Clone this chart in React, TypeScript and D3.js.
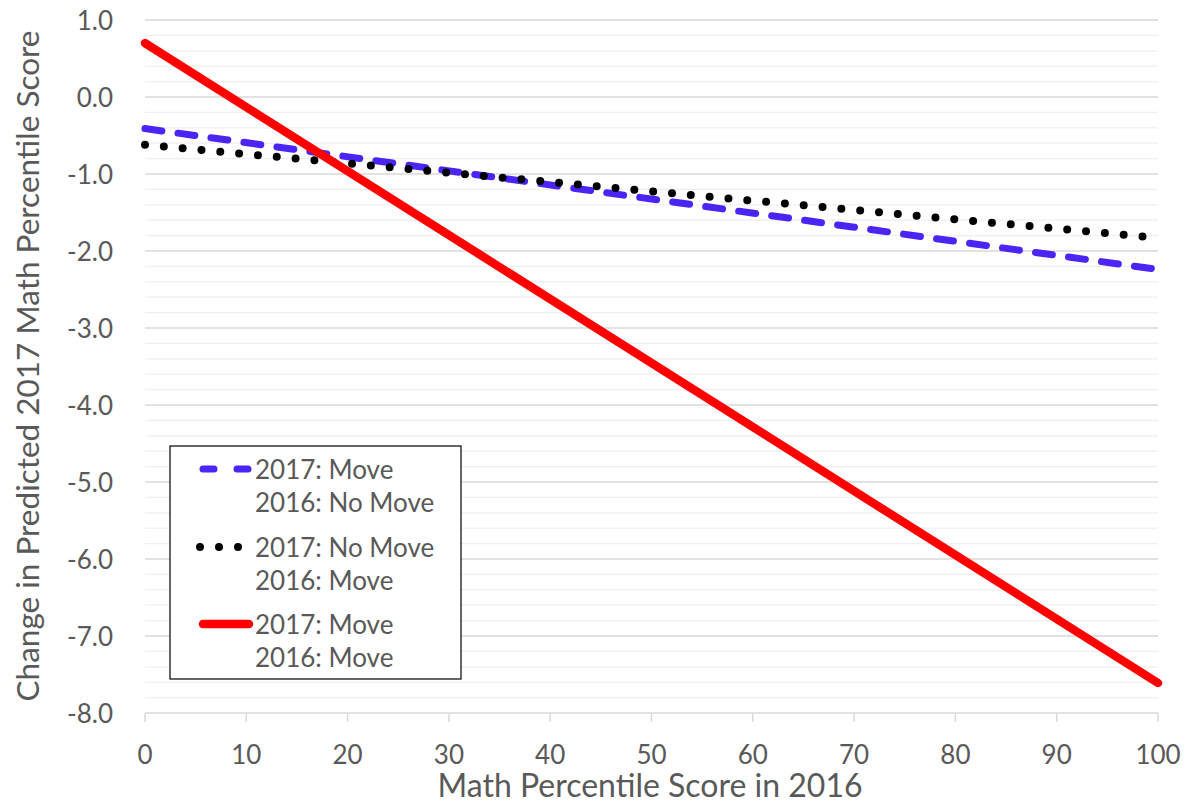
import React from "react";
import * as d3 from "d3";

const percentile = [0, 100];
const moveNoMove = [-0.41, -2.24];
const noMoveMove = [-0.62, -1.83];
const moveMove = [0.7, -7.61];
const xTicks = [0, 10, 20, 30, 40, 50, 60, 70, 80, 90, 100];
const yTicks = [1, 0, -1, -2, -3, -4, -5, -6, -7, -8];
const legendLabels = [
  ["2017: Move", "2016: No Move"],
  ["2017: No Move", "2016: Move"],
  ["2017: Move", "2016: Move"],
];

const W = 1188;
const H = 803;
const FONT = "Lato, 'Open Sans', sans-serif";
const TXT = "#595959";

const fmt = (v: number) => d3.format(".1f")(v).replace("\u2212", "-");

export default function App() {
  const x = d3.scaleLinear().domain([0, 100]).range([145, 1158]);
  const y = d3.scaleLinear().domain([-8, 1]).range([713, 20]);
  const minor = d3.range(-8, 1.0001, 0.2).map((v) => Math.round(v * 10) / 10);

  const line = d3
    .line<number>()
    .x((_, i) => x(percentile[i]))
    .y((d) => y(d));

  const series = [
    { data: moveNoMove, color: "#4a25f5", width: 7, dash: "17 16.3" },
    { data: noMoveMove, color: "#000000", width: 8, dash: "0 18.9" },
    { data: moveMove, color: "#ff0000", width: 8.5, dash: null },
  ];

  const lg = { x: 170, y: 446, w: 291, h: 233 };
  const rowY = [469, 547, 624];

  return (
    <svg
      width={W}
      height={H}
      style={{ position: "absolute", left: 0, top: 0, background: "#fff" }}
      fontFamily={FONT}
    >
      <rect width={W} height={H} fill="#fff" />
      {minor.map((v) => {
        const major = Math.abs(v - Math.round(v)) < 1e-6;
        if (v === -8) return null;
        return (
          <line
            key={"g" + v}
            x1={x(0)}
            x2={x(100)}
            y1={y(v)}
            y2={y(v)}
            stroke={major ? "#d9d9d9" : "#efefef"}
            strokeWidth={1.3}
          />
        );
      })}
      {/* x axis */}
      <line x1={x(0)} x2={x(100)} y1={y(-8)} y2={y(-8)} stroke="#d9d9d9" strokeWidth={1.5} />
      {xTicks.map((t) => (
        <g key={"xt" + t}>
          <line x1={x(t)} x2={x(t)} y1={y(-8)} y2={y(-8) + 9} stroke="#d9d9d9" strokeWidth={1.5} />
          <text x={x(t)} y={754} textAnchor="middle" dominantBaseline="central" fontSize={26} fill={TXT}>
            {t}
          </text>
        </g>
      ))}
      {yTicks.map((t) => (
        <text
          key={"yt" + t}
          x={113}
          y={y(t)}
          textAnchor="end"
          dominantBaseline="central"
          fontSize={26}
          fill={TXT}
        >
          {fmt(t)}
        </text>
      ))}
      <text x={650} y={797} textAnchor="middle" fontSize={32} fill={TXT}>
        Math Percentile Score in 2016
      </text>
      <text
        transform={`translate(27,366) rotate(-90)`}
        textAnchor="middle"
        dominantBaseline="central"
        fontSize={31.5}
        fill={TXT}
      >
        Change in Predicted 2017 Math Percentile Score
      </text>

      {series.map((s, i) => (
        <path
          key={"s" + i}
          d={line(s.data) || ""}
          fill="none"
          stroke={s.color}
          strokeWidth={s.width}
          strokeLinecap="round"
          strokeDasharray={s.dash || undefined}
        />
      ))}

      {/* legend */}
      <rect x={lg.x} y={lg.y} width={lg.w} height={lg.h} fill="#fff" stroke="#000" strokeWidth={1.2} />
      {series.map((s, i) => (
        <g key={"lg" + i}>
          <line
            x1={i === 1 ? 200 : 203}
            x2={i === 1 ? 246 : 249}
            y1={rowY[i]}
            y2={rowY[i]}
            stroke={s.color}
            strokeWidth={s.width}
            strokeLinecap="round"
            strokeDasharray={i === 0 ? "11 23" : i === 1 ? "0 19" : undefined}
          />
          <text x={255} y={rowY[i]} dominantBaseline="central" fontSize={26} fill={TXT}>
            {legendLabels[i][0]}
          </text>
          <text x={255} y={rowY[i] + 33} dominantBaseline="central" fontSize={26} fill={TXT}>
            {legendLabels[i][1]}
          </text>
        </g>
      ))}
    </svg>
  );
}
